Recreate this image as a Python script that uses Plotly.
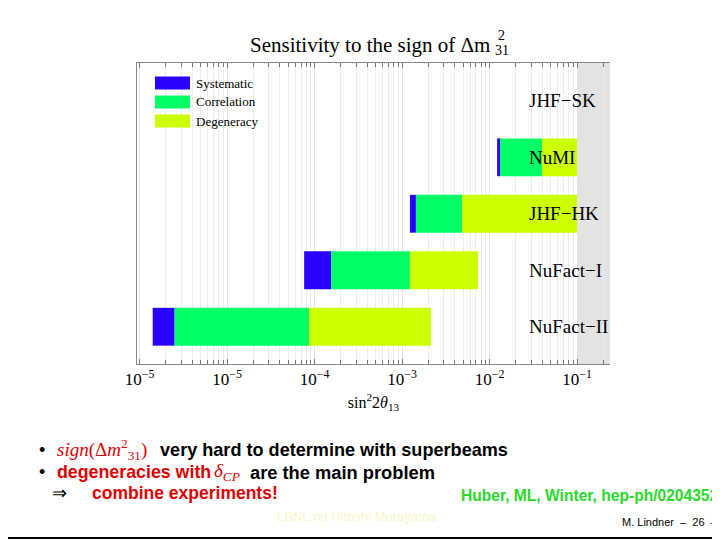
import plotly.graph_objects as go

# ---------------- data ----------------
experiments = ["NuFact−II", "NuFact−I", "JHF−HK", "NuMI", "JHF−SK"]
sys_start = [1.41e-6, 7.6e-5, 1.23e-3, 1.22e-2, None]
corr_start = [2.51e-6, 1.55e-4, 1.44e-3, 1.32e-2, None]
deg_start = [8.65e-5, 1.23e-3, 4.85e-3, 3.98e-2, None]
deg_end = [2.14e-3, 7.4e-3, 0.1, 0.1, None]
tick_vals = [1e-6, 1e-5, 1e-4, 1e-3, 1e-2, 1e-1]
tick_text = ["10<sup>−5</sup>", "10<sup>−5</sup>", "10<sup>−4</sup>",
             "10<sup>−3</sup>", "10<sup>−2</sup>", "10<sup>−1</sup>"]
excluded_from = 0.1
components = ["Systematic", "Correlation", "Degeneracy"]
colors = ["#2a00ff", "#00ff66", "#ccff00"]

# ---------------- layout helpers (screen pixel coords) ----------------
OFF = 8  # page body margin
L, R, T, B = 137, 610, 63, 364
SW, SH = 720, 540
W, H = SW - OFF, SH - OFF
def px(x):
    return (x - L) / (R - L)
def py(y):
    return (B - y) / (B - T)

x_range = [-6.03, -0.623]
y_range = [-0.66, 4.67]
serif = "Liberation Serif"
sans = "Liberation Sans"

rows = list(range(len(experiments)))
starts = [sys_start, corr_start, deg_start]
ends = [corr_start, deg_start, deg_end]

fig = go.Figure()
for name, col, s, e in zip(components, colors, starts, ends):
    ys, bases, lens = [], [], []
    for i in rows:
        if s[i] is None:
            continue
        ys.append(i)
        bases.append(s[i])
        lens.append(e[i] - s[i])
    fig.add_trace(go.Bar(y=ys, x=lens, base=bases, orientation="h",
                         marker=dict(color=col, line=dict(width=0)),
                         width=0.67, name=name, showlegend=False))

# minor tick positions
minor_vals = []
for k in range(-7, 1):
    for m in range(2, 10):
        minor_vals.append(m * 10 ** k)

fig.update_layout(
    width=W, height=H,
    margin=dict(l=L - OFF, r=SW - R, t=T - OFF, b=SH - B, pad=0),
    paper_bgcolor="white", plot_bgcolor="white",
    barmode="overlay",
    xaxis=dict(type="log", range=x_range, tickmode="array",
               tickvals=tick_vals, ticktext=tick_text,
               ticks="inside", ticklen=5, tickcolor="#777",
               showline=True, linecolor="#888", linewidth=1, mirror="ticks",
               showgrid=True, gridcolor="#e4e4e4", gridwidth=1,
               tickfont=dict(family=serif, size=17, color="black"),
               title=dict(text="sin<sup>2</sup>2<i>θ</i><sub>13</sub>",
                          font=dict(family=serif, size=16, color="black"),
                          standoff=8),
               minor=dict(tickmode="array", tickvals=minor_vals,
                          ticks="inside", ticklen=4, tickcolor="#777",
                          showgrid=True, gridcolor="#ececec", gridwidth=1),
               zeroline=False),
    yaxis=dict(range=y_range, showticklabels=False, ticks="",
               showgrid=False, zeroline=False,
               showline=True, linecolor="#888", linewidth=1),
)

# excluded (grey) region
fig.add_shape(type="rect", xref="x", yref="paper",
              x0=excluded_from, x1=10 ** x_range[1], y0=0, y1=1,
              fillcolor="#e3e3e3", line=dict(width=0), layer="below")

# experiment labels
for i, name in enumerate(experiments):
    fig.add_annotation(xref="paper", yref="y", x=px(527), y=i, text=name,
                       showarrow=False, xanchor="left", yanchor="middle",
                       font=dict(family=serif, size=19, color="black"))

# custom legend
leg_y = [83, 102, 121]
for name, col, yc in zip(components, colors, leg_y):
    fig.add_shape(type="rect", xref="paper", yref="paper",
                  x0=px(155), x1=px(190), y0=py(yc - 6.5), y1=py(yc + 6.5),
                  fillcolor=col, line=dict(width=0))
    fig.add_annotation(xref="paper", yref="paper", x=px(194), y=py(yc),
                       text=name, showarrow=False, xanchor="left",
                       yanchor="middle",
                       font=dict(family=serif, size=13, color="black"))

# title
fig.add_annotation(xref="paper", yref="paper", x=px(492), y=py(45),
                   text="Sensitivity to the sign of Δm", showarrow=False,
                   xanchor="right", yanchor="middle",
                   font=dict(family=serif, size=21, color="black"))
fig.add_annotation(xref="paper", yref="paper", x=px(496), y=py(36),
                   text="2", showarrow=False, xanchor="left", yanchor="middle",
                   font=dict(family=serif, size=14, color="black"))
fig.add_annotation(xref="paper", yref="paper", x=px(493), y=py(50),
                   text="31", showarrow=False, xanchor="left", yanchor="middle",
                   font=dict(family=serif, size=14, color="black"))

# slide text
red = "#dd0000"
def note(x, y, text, font):
    fig.add_annotation(xref="paper", yref="paper", x=px(x), y=py(y),
                       text=text, showarrow=False, xanchor="left",
                       yanchor="middle", font=font)

def bf(size, color="black"):
    return dict(family=sans, size=size, color=color)
mfont = dict(family=serif, size=19, color=red)
note(37, 450, "•", bf(18))
note(55, 450, "<i>sign</i>(Δ<i>m</i><sup>2</sup><sub>31</sub>)", mfont)
note(158, 450, "<b>very hard to determine with superbeams</b>", bf(18.1))
note(37, 472, "•", bf(18))
note(55, 472, "<b>degeneracies with</b>", bf(17.8, red))
note(212, 472, "<i>δ<sub>CP</sub></i>", mfont)
note(248, 472, "<b>are the main problem</b>", bf(18.3))
note(50, 493, "⇒", dict(family=serif, size=18, color="black"))
note(90, 493, "<b>combine experiments!</b>", bf(17.5, red))
note(459, 495, "<b>Huber, ML, Winter, hep-ph/0204352</b>",
     dict(family=sans, size=15.6, color="#2ad82a"))
note(275, 517, "LBNL.nu Hitoshi Murayama",
     dict(family=sans, size=13, color="#f6f6c6"))
note(620, 522, "M. Lindner  –  26  –", bf(11))
fig.add_shape(type="line", xref="paper", yref="paper",
              x0=px(OFF), x1=px(SW), y0=py(538), y1=py(538),
              line=dict(color="black", width=2))

fig.write_html("out.html")
